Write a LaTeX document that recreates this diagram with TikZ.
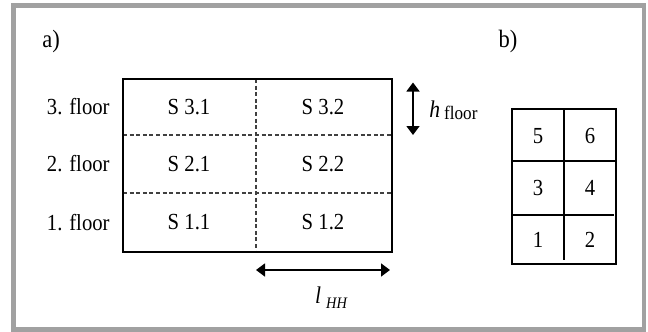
\documentclass[tikz,border=0pt]{standalone}
\usepackage{fontspec}
\setmainfont[FakeStretch=0.9]{Liberation Serif}
\usetikzlibrary{arrows.meta}
\tikzstyle{frame}=[draw=black!37,line width=2.25pt]
\tikzstyle{wall}=[draw,line width=1pt]
\tikzstyle{thin}=[draw,line width=0.8pt]
\tikzstyle{split}=[draw=black!75,line width=0.7pt,dash pattern=on 2pt off 1.3pt]
\tikzstyle{lbl}=[inner sep=0pt,font=\fontsize{11.5}{13}\selectfont]
\tikzstyle{tag}=[inner sep=0pt,font=\fontsize{12.5}{14}\selectfont]
\tikzstyle{dim}=[{Triangle[width=6.5pt,length=4.5pt]}-{Triangle[width=6.5pt,length=4.5pt]},line width=0.75pt]

\begin{document}
\begin{tikzpicture}[x=0.5pt,y=-0.5pt]
  \useasboundingbox (0,0) rectangle (648,332);
  % outer frame
  \draw[frame] (13.5,5.3) rectangle (644.2,329.7);
  \node[tag] (ta) at (51,41) {a)};
  \node[tag] (tb) at (508,41) {b)};
  % building section
  \draw[split] (256,79) -- (256,252);
  \foreach \y in {135,193} {
    \draw[split] (123,\y) -- (392,\y);
  }
  \draw[wall] (123,79) rectangle (392,252);
  \foreach \f/\y in {1/222.5,2/164,3/107} {
    \node[lbl,anchor=east] (floor\f) at (110,\y) {\f. floor};
    \node[lbl] (s\f1) at (189,\y) {S \f.1};
    \node[lbl] (s\f2) at (323,\y) {S \f.2};
  }
  % dimensions
  \coordinate (htop) at (413,82.5);
  \coordinate (hbot) at (413,135);
  \draw[dim] (htop) -- (hbot);
  \node[inner sep=0pt,anchor=west] (hlab) at (429,110)
    {\fontsize{12}{14}\selectfont\textit{h}\,\raisebox{-0.1em}{\fontsize{9.5}{11}\selectfont floor}};
  \coordinate (lleft) at (256,270);
  \coordinate (lright) at (390,270);
  \draw[dim] (lleft) -- (lright);
  \node[inner sep=0pt] (llab) at (331,298)
    {\fontsize{12}{14}\selectfont\textit{l}\kern2.5pt\raisebox{-0.2em}{\fontsize{8}{10}\selectfont\itshape HH}};
  % numbering scheme
  \draw[thin] (564,109) -- (564,260);
  \draw[thin] (512,161) -- (616,161);
  \draw[thin] (512,215) -- (614,215);
  \draw[wall] (512,109) rectangle (616,264);
  \foreach \n/\x/\y in {1/538/240,2/590/240,3/538/188,4/590/188,5/538/136,6/590/136} {
    \node[lbl] (n\n) at (\x,\y) {\n};
  }
\end{tikzpicture}
\end{document}
